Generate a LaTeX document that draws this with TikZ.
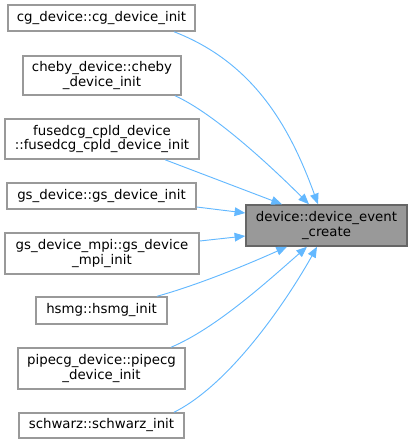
\documentclass[tikz,border=0pt]{standalone}
\usepackage{fontspec}
\setmainfont{DejaVu Sans}
\usetikzlibrary{arrows.meta,calc}
\definecolor{edgeblue}{HTML}{63B8FF}
\definecolor{boxline}{HTML}{999999}
\definecolor{tgtfill}{HTML}{999999}
\definecolor{tgtline}{HTML}{666666}
\tikzset{
  fn/.style={draw=boxline, line width=1.1pt, fill=white, align=center,
    font=\fontsize{10}{11}\selectfont, inner xsep=0pt, inner ysep=0pt},
  tgt/.style={fn, draw=tgtline, fill=tgtfill},
  call/.style={draw=edgeblue, line width=0.7pt,
    -{Triangle[length=8pt,width=6.5pt]}}
}
\begin{document}
\begin{tikzpicture}[x=0.75pt,y=-0.75pt]
\useasboundingbox (0,0) rectangle (412,444);
% callers
\node[fn, minimum width=140.25pt, minimum height=19.5pt] (cg) at (101.5,18) {cg\_device::cg\_device\_init};
\node[fn, minimum width=118.5pt, minimum height=29.25pt] (cheby) at (102,75.5) {cheby\_device::cheby\\\_device\_init};
\node[fn, minimum width=145.5pt, minimum height=30pt] (fused) at (102,139) {fusedcg\_cpld\_device\\::fusedcg\_cpld\_device\_init};
\node[fn, minimum width=141.75pt, minimum height=19.5pt] (gs) at (101.5,196) {gs\_device::gs\_device\_init};
\node[fn, minimum width=145.5pt, minimum height=30.75pt] (gsmpi) at (102,253.5) {gs\_device\_mpi::gs\_device\\\_mpi\_init};
\node[fn, minimum width=98.25pt, minimum height=20.25pt] (hsmg) at (101.5,310.5) {hsmg::hsmg\_init};
\node[fn, minimum width=125.25pt, minimum height=30.75pt] (pipecg) at (101.5,368.5) {pipecg\_device::pipecg\\\_device\_init};
\node[fn, minimum width=123.75pt, minimum height=18.75pt] (schwarz) at (101.5,425.5) {schwarz::schwarz\_init};
% callee
\node[tgt, minimum width=120.75pt, minimum height=30.75pt] (create) at (326.5,225.5) {device::device\_event\\\_create};
% calls
\draw[call] ($(cg.south)+(72.5,0)$) .. controls +(80,31) and +(-28,-77) .. ($(create.north)+(-8.5,0)$);
\draw[call] ($(cheby.south)+(73,0)$) .. controls +(40,18) and +(-35,-35) .. ($(create.north)+(-17.5,0)$);
\draw[call] ($(fused.south)+(63,0)$) -- ($(create.north)+(-44.5,0)$);
\draw[call] ($(gs.east)+(0,11)$) -- ($(create.west)+(0,-12.5)$);
\draw[call] ($(gsmpi.east)+(0,-12.5)$) -- ($(create.west)+(0,10.5)$);
\draw[call] ($(hsmg.north)+(55.5,0)$) .. controls +(40,-11) and +(-40,18) .. ($(create.south)+(-39.5,0)$);
\draw[call] ($(pipecg.north)+(69.5,0)$) .. controls +(45,-19) and +(-40,35) .. ($(create.south)+(-19.5,0)$);
\draw[call] ($(schwarz.north)+(72.5,0)$) .. controls +(60,-30) and +(-25,45) .. ($(create.south)+(-9.5,0)$);
\end{tikzpicture}
\end{document}
